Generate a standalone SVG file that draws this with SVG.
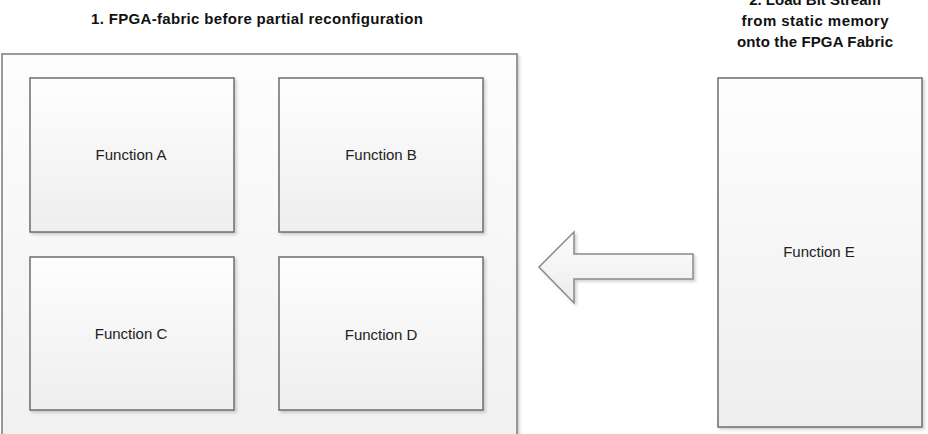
<svg xmlns="http://www.w3.org/2000/svg" width="928" height="434" viewBox="0 0 928 434">
  <defs>
    <linearGradient id="boxFill" x1="0" y1="0" x2="0" y2="1">
      <stop offset="0" stop-color="#fefefe"/>
      <stop offset="1" stop-color="#eeeeee"/>
    </linearGradient>
    <linearGradient id="outerFill" x1="0" y1="0" x2="0" y2="1">
      <stop offset="0" stop-color="#fdfdfd"/>
      <stop offset="1" stop-color="#f1f1f1"/>
    </linearGradient>
    <linearGradient id="arrowFill" x1="0" y1="0" x2="0" y2="1">
      <stop offset="0" stop-color="#fdfdfd"/>
      <stop offset="1" stop-color="#ececec"/>
    </linearGradient>
    <filter id="shadow" x="-10%" y="-10%" width="120%" height="120%">
      <feDropShadow dx="2" dy="2" stdDeviation="1.5" flood-color="#000" flood-opacity="0.18"/>
    </filter>
  </defs>
  <style>
    .box { fill: url(#boxFill); stroke: #6e6e6e; stroke-width: 1.5; filter: url(#shadow); }
    .outer { fill: url(#outerFill); stroke: #7a7a7a; stroke-width: 1.5; filter: url(#shadow); }
    .label { font-family: "Liberation Sans", Arial, sans-serif; font-size: 15px; fill: #222; text-anchor: middle; }
    .title { font-family: "Liberation Sans", Arial, sans-serif; font-size: 15px; font-weight: bold; fill: #111; text-anchor: middle; }
    .arrow { fill: url(#arrowFill); stroke: #8a8a8a; stroke-width: 1.5; stroke-linejoin: miter; filter: url(#shadow); }
  </style>
  <rect width="928" height="434" fill="#ffffff"/>

  <g id="fabric">
    <rect class="outer" x="2" y="54" width="515" height="390"/>
    <text class="title" x="257" y="24" textLength="332" lengthAdjust="spacing">1. FPGA-fabric before partial reconfiguration</text>
  </g>

  <g id="function-a">
    <rect class="box" x="30" y="78" width="204" height="154"/>
    <text class="label" x="131" y="160">Function A</text>
  </g>
  <g id="function-b">
    <rect class="box" x="279" y="78" width="204" height="154"/>
    <text class="label" x="381" y="160">Function B</text>
  </g>
  <g id="function-c">
    <rect class="box" x="30" y="257" width="204" height="153"/>
    <text class="label" x="131" y="339">Function C</text>
  </g>
  <g id="function-d">
    <rect class="box" x="279" y="257" width="204" height="153"/>
    <text class="label" x="381" y="340">Function D</text>
  </g>

  <g id="function-e">
    <text class="title" x="815" y="5">2. Load Bit Stream</text>
    <text class="title" x="815" y="26" textLength="147" lengthAdjust="spacing">from static memory</text>
    <text class="title" x="815" y="47" textLength="156" lengthAdjust="spacing">onto the FPGA Fabric</text>
    <rect class="box" x="718" y="78" width="204" height="349"/>
    <text class="label" x="819" y="257">Function E</text>
  </g>

  <g id="connectors">
    <polygon class="arrow" points="539,267 574,232 574,254 693,254 693,279 574,279 574,303"/>
  </g>
</svg>
